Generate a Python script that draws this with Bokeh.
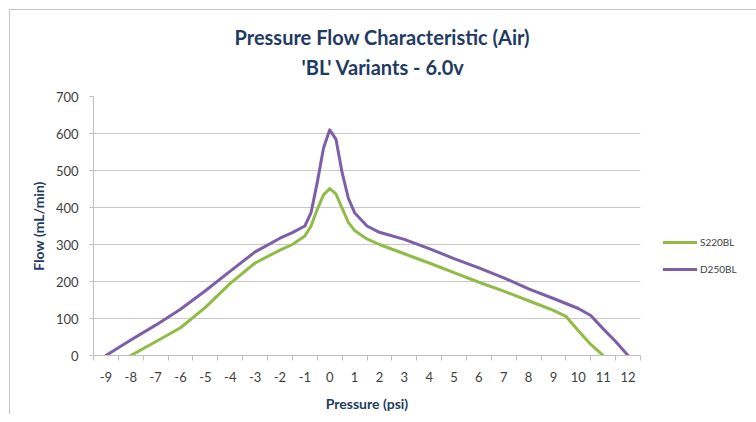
from bokeh.plotting import figure
from bokeh.models import (Range1d, FixedTicker, Legend, LegendItem, Title)
from bokeh.embed import file_html
from bokeh.resources import INLINE

# ---- data ----
pressure_ticks = list(range(-9, 13))
tick_marks = [t - 0.5 for t in range(-9, 14)]
flow_ticks = [0, 100, 200, 300, 400, 500, 600, 700]

pressure_s220 = [-8, -7, -6, -5, -4, -3, -2, -1.5, -1, -0.75, -0.5, -0.25, 0,
                 0.25, 0.5, 0.75, 1, 1.5, 2, 3, 4, 5, 6, 7, 8, 9, 9.5, 10, 10.5, 11]
flow_s220 = [0, 37, 75, 130, 195, 250, 285, 300, 323, 350, 395, 434, 451,
             437, 398, 360, 338, 315, 300, 275, 250, 224, 198, 174, 148, 122, 106, 67, 30, 0]

pressure_d250 = [-9, -8, -7, -6, -5, -4, -3, -2, -1.5, -1, -0.75, -0.5, -0.25, 0,
                 0.25, 0.5, 0.75, 1, 1.5, 2, 3, 4, 5, 6, 7, 8, 9, 10, 10.5, 11, 11.5, 12]
flow_d250 = [0, 42, 82, 125, 175, 228, 280, 317, 332, 350, 386, 468, 560, 610,
             585, 494, 425, 386, 350, 333, 314, 289, 262, 237, 210, 180, 154, 127, 108, 72, 38, 0]

series_names = ["S220BL", "D250BL"]
series_colors = ["#8FBC45", "#7D5FA8"]
title_lines = ["Pressure Flow Characteristic (Air)", "'BL' Variants - 6.0v"]

NAVY = "#1F3B63"
GRAY_TXT = "#404040"
GRID = "#C8C8C8"

p = figure(output_backend="svg", toolbar_location=None, title=None,
           frame_width=547, frame_height=259,
           min_border_left=83, min_border_top=86,
           min_border_right=110, min_border_bottom=55,
           x_range=Range1d(-9.5, 12.5), y_range=Range1d(0, 700),
           background_fill_color="white", border_fill_color="white",
           outline_line_color=None)
p.margin = (9, 0, 0, 9)
p.styles = {"border-top": "1px solid #C4C4C4", "border-left": "1px solid #C4C4C4"}

# x axis
xa = p.xaxis[0]
xa.ticker = FixedTicker(ticks=pressure_ticks, minor_ticks=tick_marks)
xa.major_label_overrides = {t: str(t) for t in pressure_ticks}
xa.axis_line_color = "#BFBFBF"
xa.major_tick_line_color = None
xa.major_tick_out = 0
xa.major_tick_in = 0
xa.minor_tick_line_color = "#BFBFBF"
xa.minor_tick_out = 5
xa.minor_tick_in = 0
xa.major_label_standoff = 11
xa.major_label_text_font = "Lato"
xa.major_label_text_font_size = "13px"
xa.major_label_text_color = GRAY_TXT
xa.axis_label = "Pressure (psi)"
xa.axis_label_text_font = "Lato"
xa.axis_label_text_font_style = "bold"
xa.axis_label_text_font_size = "14px"
xa.axis_label_text_color = NAVY
xa.axis_label_standoff = 10

# y axis
ya = p.yaxis[0]
ya.ticker = FixedTicker(ticks=flow_ticks)
ya.axis_line_color = "#BFBFBF"
ya.major_tick_line_color = "#BFBFBF"
ya.major_tick_out = 4
ya.major_tick_in = 0
ya.minor_tick_line_color = None
ya.major_label_standoff = 11
ya.major_label_text_font = "Lato"
ya.major_label_text_font_size = "13px"
ya.major_label_text_color = GRAY_TXT
ya.axis_label = "Flow (mL/min)"
ya.axis_label_text_font = "Lato"
ya.axis_label_text_font_style = "bold"
ya.axis_label_text_font_size = "14px"
ya.axis_label_text_color = NAVY
ya.axis_label_standoff = 6

p.xgrid.visible = False
p.ygrid.ticker = FixedTicker(ticks=flow_ticks)
p.ygrid.grid_line_color = GRID
p.ygrid.grid_line_width = 1

r1 = p.line(pressure_s220, flow_s220, line_color=series_colors[0], line_width=3,
            line_join="round", line_cap="round")
r2 = p.line(pressure_d250, flow_d250, line_color=series_colors[1], line_width=3,
            line_join="round", line_cap="round")

legend = Legend(items=[LegendItem(label=series_names[0], renderers=[r1]),
                       LegendItem(label=series_names[1], renderers=[r2])],
                location=(23, 76), orientation="vertical",
                border_line_color=None, background_fill_alpha=0,
                padding=0, margin=0, spacing=7,
                glyph_width=34, glyph_height=20, label_standoff=3,
                label_text_font="Lato", label_text_font_size="10px",
                label_text_color=GRAY_TXT)
p.add_layout(legend, "right")

# subtitle first (closest to the frame), then main title; left-aligned with
# offsets so both lines are centred on the whole chart area
p.add_layout(Title(text=title_lines[1], align="left", offset=208,
                   text_font="Lato", text_font_style="bold",
                   text_font_size="20px", text_color=NAVY,
                   standoff=36), "above")
p.add_layout(Title(text=title_lines[0], align="left", offset=141,
                   text_font="Lato", text_font_style="bold",
                   text_font_size="20px", text_color=NAVY,
                   standoff=-28), "above")

open("out.html", "w").write(file_html(p, INLINE))
